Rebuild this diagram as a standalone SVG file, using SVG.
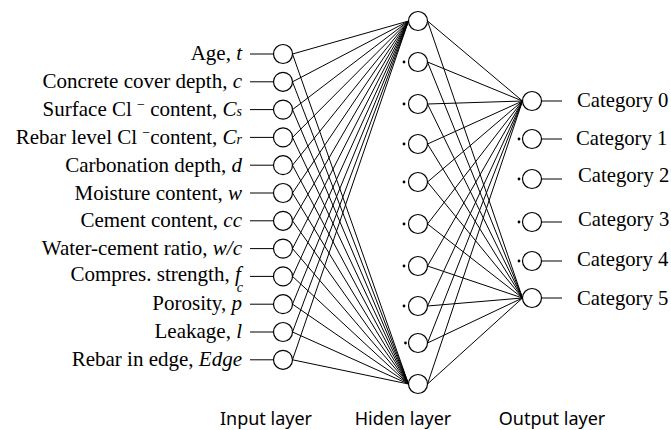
<svg xmlns="http://www.w3.org/2000/svg" width="671" height="430" viewBox="0 0 671 430">
<style>
.lbl{font-family:"Liberation Serif","Times New Roman",serif;font-size:21px;fill:#000}
.it{font-style:italic}
.sub{font-size:14px}
.cat{font-family:"Liberation Serif","Times New Roman",serif;font-size:20.7px;fill:#000}
.lay{font-family:"Noto Sans","DejaVu Sans",sans-serif;font-size:18px;fill:#000;text-anchor:middle}
.node{fill:#fff;stroke:#000;stroke-width:1.2}
.ln{stroke:#000;stroke-width:1;fill:none}
.dot{fill:#000}
</style>
<rect width="671" height="430" fill="#fff"/>
<g id="connectors" class="ln">
<path d="M250 54H273.5M250 81.8H273.5M250 109.6H273.5M250 137.4H273.5M250 165.2H273.5M250 193H273.5M250 220.8H273.5M250 248.6H273.5M250 276.4H273.5M250 304.2H273.5M250 332H273.5M250 359.8H273.5"/>
<path d="M292.5 54L408.5 21M292.5 81.8L408.5 21M292.5 109.6L408.5 21M292.5 137.4L408.5 21M292.5 165.2L408.5 21M292.5 193L408.5 21M292.5 220.8L408.5 21M292.5 248.6L408.5 21M292.5 276.4L408.5 21M292.5 304.2L408.5 21M292.5 332L408.5 21M292.5 359.8L408.5 21"/>
<path d="M292.5 54L408.5 384M292.5 81.8L408.5 384M292.5 109.6L408.5 384M292.5 137.4L408.5 384M292.5 165.2L408.5 384M292.5 193L408.5 384M292.5 220.8L408.5 384M292.5 248.6L408.5 384M292.5 276.4L408.5 384M292.5 304.2L408.5 384M292.5 332L408.5 384M292.5 359.8L408.5 384"/>
<path d="M427.5 21L522.5 101M427.5 62L522.5 101M427.5 104L522.5 101M427.5 144L522.5 101M427.5 182L522.5 101M427.5 224L522.5 101M427.5 266L522.5 101M427.5 306L522.5 101M427.5 343L522.5 101M427.5 384L522.5 101"/>
<path d="M427.5 21L522.5 298M427.5 62L522.5 298M427.5 104L522.5 298M427.5 144L522.5 298M427.5 182L522.5 298M427.5 224L522.5 298M427.5 266L522.5 298M427.5 306L522.5 298M427.5 343L522.5 298M427.5 384L522.5 298"/>
<path d="M541.5 101H562M541.5 139H562M541.5 179H562M541.5 222H562M541.5 261H562M541.5 298H562"/>
</g>
<g id="input-layer">
<g id="in-age"><text class="lbl" x="242" y="60" text-anchor="end">Age, <tspan class="it">t</tspan></text><circle class="node" cx="283" cy="54" r="9.5"/></g>
<g id="in-cover"><text class="lbl" x="242" y="88" text-anchor="end">Concrete cover depth, <tspan class="it">c</tspan></text><circle class="node" cx="283" cy="81.8" r="9.5"/></g>
<g id="in-cs"><text class="lbl" x="242" y="116" text-anchor="end">Surface Cl <tspan class="sub" baseline-shift="super">−</tspan> content, <tspan class="it">C</tspan><tspan class="it sub">s</tspan></text><circle class="node" cx="283" cy="109.6" r="9.5"/></g>
<g id="in-cr"><text class="lbl" x="242" y="144" text-anchor="end">Rebar level Cl <tspan class="sub" baseline-shift="super">−</tspan>content, <tspan class="it">C</tspan><tspan class="it sub">r</tspan></text><circle class="node" cx="283" cy="137.4" r="9.5"/></g>
<g id="in-d"><text class="lbl" x="242" y="172" text-anchor="end">Carbonation depth, <tspan class="it">d</tspan></text><circle class="node" cx="283" cy="165.2" r="9.5"/></g>
<g id="in-w"><text class="lbl" x="242" y="199.5" text-anchor="end">Moisture content, <tspan class="it">w</tspan></text><circle class="node" cx="283" cy="193" r="9.5"/></g>
<g id="in-cc"><text class="lbl" x="242" y="227" text-anchor="end">Cement content, <tspan class="it">cc</tspan></text><circle class="node" cx="283" cy="220.8" r="9.5"/></g>
<g id="in-wc"><text class="lbl" x="242" y="255" text-anchor="end">Water-cement ratio, <tspan class="it">w/c</tspan></text><circle class="node" cx="283" cy="248.6" r="9.5"/></g>
<g id="in-fc"><text class="lbl" x="243" y="281" text-anchor="end">Compres. strength, <tspan class="it">f</tspan><tspan class="it" font-size="14px" dx="-4" dy="11">c</tspan></text><circle class="node" cx="283" cy="276.4" r="9.5"/></g>
<g id="in-p"><text class="lbl" x="242" y="310" text-anchor="end">Porosity, <tspan class="it">p</tspan></text><circle class="node" cx="283" cy="304.2" r="9.5"/></g>
<g id="in-l"><text class="lbl" x="242" y="338" text-anchor="end">Leakage, <tspan class="it">l</tspan></text><circle class="node" cx="283" cy="332" r="9.5"/></g>
<g id="in-edge"><text class="lbl" x="242" y="366" text-anchor="end">Rebar in edge, <tspan class="it">Edge</tspan></text><circle class="node" cx="283" cy="359.8" r="9.5"/></g>
</g>
<g id="hidden-layer">
<g id="h1"><circle class="node" cx="418" cy="21" r="9.5"/></g>
<g id="h2"><circle class="dot" cx="404" cy="62" r="1.4"/><circle class="node" cx="418" cy="62" r="9.5"/></g>
<g id="h3"><circle class="dot" cx="404" cy="104" r="1.4"/><circle class="node" cx="418" cy="104" r="9.5"/></g>
<g id="h4"><circle class="dot" cx="404" cy="144" r="1.4"/><circle class="node" cx="418" cy="144" r="9.5"/></g>
<g id="h5"><circle class="dot" cx="404" cy="182" r="1.4"/><circle class="node" cx="418" cy="182" r="9.5"/></g>
<g id="h6"><circle class="dot" cx="404" cy="224" r="1.4"/><circle class="node" cx="418" cy="224" r="9.5"/></g>
<g id="h7"><circle class="dot" cx="404" cy="266" r="1.4"/><circle class="node" cx="418" cy="266" r="9.5"/></g>
<g id="h8"><circle class="dot" cx="404" cy="306" r="1.4"/><circle class="node" cx="418" cy="306" r="9.5"/></g>
<g id="h9"><circle class="dot" cx="405.5" cy="343" r="1.4"/><circle class="node" cx="418" cy="343" r="9.5"/></g>
<g id="h10"><circle class="node" cx="418" cy="384" r="9.5"/></g>
</g>
<g id="output-layer">
<g id="out0"><circle class="node" cx="532" cy="101" r="9.5"/><text class="cat" x="577" y="107">Category 0</text></g>
<g id="out1"><circle class="dot" cx="519" cy="139" r="1.4"/><circle class="node" cx="532" cy="139" r="9.5"/><text class="cat" x="576" y="145">Category 1</text></g>
<g id="out2"><circle class="dot" cx="519" cy="179" r="1.4"/><circle class="node" cx="532" cy="179" r="9.5"/><text class="cat" x="578" y="182">Category 2</text></g>
<g id="out3"><circle class="dot" cx="519" cy="222" r="1.4"/><circle class="node" cx="532" cy="222" r="9.5"/><text class="cat" x="578" y="226">Category 3</text></g>
<g id="out4"><circle class="dot" cx="519" cy="261" r="1.4"/><circle class="node" cx="532" cy="261" r="9.5"/><text class="cat" x="577" y="266">Category 4</text></g>
<g id="out5"><circle class="node" cx="532" cy="298" r="9.5"/><text class="cat" x="577" y="305">Category 5</text></g>
</g>
<g id="layer-titles">
<text class="lay" x="266" y="425">Input layer</text>
<text class="lay" x="403" y="425">Hiden layer</text>
<text class="lay" x="552" y="425">Output layer</text>
</g>
</svg>
